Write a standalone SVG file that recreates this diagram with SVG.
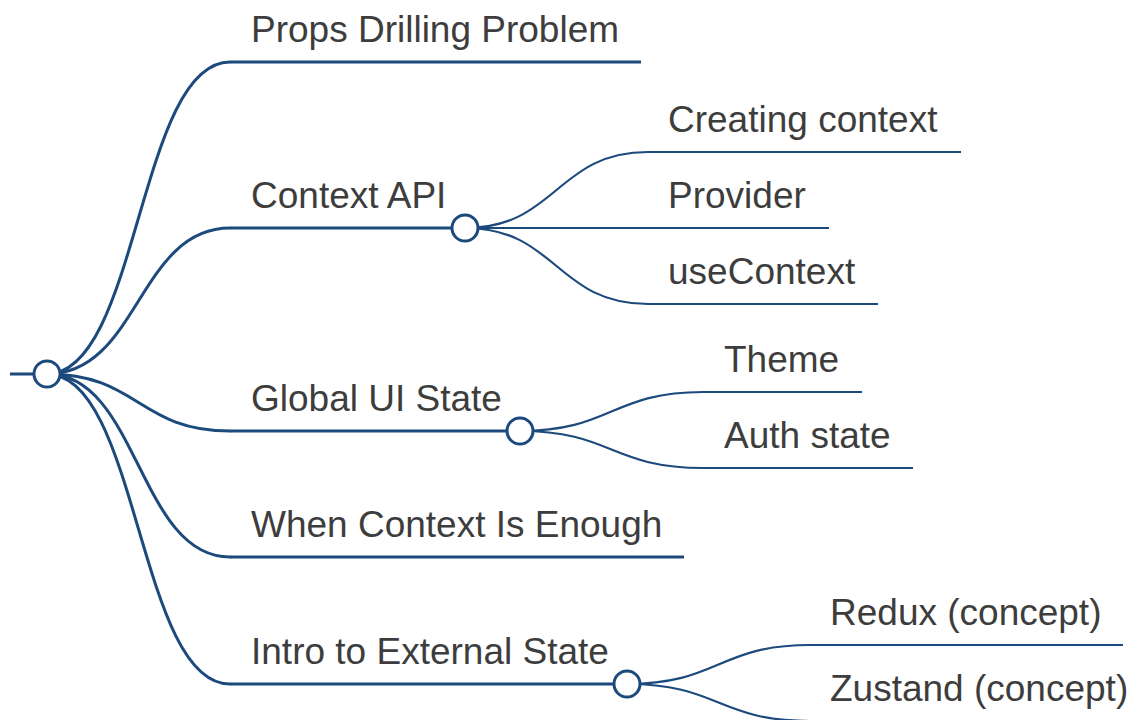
<svg xmlns="http://www.w3.org/2000/svg" width="1139" height="720" viewBox="0 0 1139 720">
  <style>
    .link { fill: none; stroke: #1d4a7d; stroke-linecap: round; }
    .l1 { stroke-width: 3; }
    .l2 { stroke-width: 2.2; }
    .bar { stroke: #1d4a7d; fill: none; }
    .knob { fill: #ffffff; stroke: #1d4a7d; stroke-width: 3; }
    .label { font-family: "Liberation Sans", Arial, sans-serif; font-size: 37px; fill: #3d3d3d; }
  </style>
  <rect width="1139" height="720" fill="#ffffff"/>

  <!-- curved links between parent knobs and child underlines -->
  <g id="connectors">
    <path class="link l1" d="M47 374 C138.5 374 138.5 62 230 62"/>
    <path class="link l1" d="M47 374 C138.5 374 138.5 228 230 228"/>
    <path class="link l1" d="M47 374 C138.5 374 138.5 431 230 431"/>
    <path class="link l1" d="M47 374 C138.5 374 138.5 557 230 557"/>
    <path class="link l1" d="M47 374 C138.5 374 138.5 684 230 684"/>

    <path class="link l2" d="M465 228 C556.5 228 556.5 152 648 152"/>
    <path class="link l2" d="M465 228 C556.5 228 556.5 228 648 228"/>
    <path class="link l2" d="M465 228 C556.5 228 556.5 304 648 304"/>

    <path class="link l2" d="M520 431 C611.5 431 611.5 392 703 392"/>
    <path class="link l2" d="M520 431 C611.5 431 611.5 468 703 468"/>

    <path class="link l2" d="M627 684 C718.5 684 718.5 645 810 645"/>
    <path class="link l2" d="M627 684 C718.5 684 718.5 721 810 721"/>
  </g>

  <!-- root -->
  <g id="root">
    <line class="bar" x1="10" y1="374" x2="47" y2="374" stroke-width="3"/>
    <circle class="knob" cx="47" cy="374" r="13"/>
  </g>

  <g id="props-drilling">
    <line class="bar" x1="230" y1="62" x2="641" y2="62" stroke-width="3"/>
    <text class="label" x="251" y="42">Props Drilling Problem</text>
  </g>

  <g id="context-api">
    <line class="bar" x1="230" y1="228" x2="465" y2="228" stroke-width="3"/>
    <text class="label" x="251" y="208">Context API</text>
    <circle class="knob" cx="465" cy="228" r="13"/>
  </g>

  <g id="creating-context">
    <line class="bar" x1="648" y1="152" x2="961" y2="152" stroke-width="2.2"/>
    <text class="label" x="668" y="132">Creating context</text>
  </g>

  <g id="provider">
    <line class="bar" x1="648" y1="228" x2="829" y2="228" stroke-width="2.2"/>
    <text class="label" x="668" y="208">Provider</text>
  </g>

  <g id="use-context">
    <line class="bar" x1="648" y1="304" x2="878" y2="304" stroke-width="2.2"/>
    <text class="label" x="668" y="284">useContext</text>
  </g>

  <g id="global-ui-state">
    <line class="bar" x1="230" y1="431" x2="520" y2="431" stroke-width="3"/>
    <text class="label" x="251" y="411">Global UI State</text>
    <circle class="knob" cx="520" cy="431" r="13"/>
  </g>

  <g id="theme">
    <line class="bar" x1="703" y1="392" x2="862" y2="392" stroke-width="2.2"/>
    <text class="label" x="724" y="372">Theme</text>
  </g>

  <g id="auth-state">
    <line class="bar" x1="703" y1="468" x2="913" y2="468" stroke-width="2.2"/>
    <text class="label" x="724" y="448">Auth state</text>
  </g>

  <g id="context-enough">
    <line class="bar" x1="230" y1="557" x2="684" y2="557" stroke-width="3"/>
    <text class="label" x="251" y="537">When Context Is Enough</text>
  </g>

  <g id="external-state">
    <line class="bar" x1="230" y1="684" x2="627" y2="684" stroke-width="3"/>
    <text class="label" x="251" y="664">Intro to External State</text>
    <circle class="knob" cx="627" cy="684" r="13"/>
  </g>

  <g id="redux">
    <line class="bar" x1="810" y1="645" x2="1123" y2="645" stroke-width="2.2"/>
    <text class="label" x="830" y="625">Redux (concept)</text>
  </g>

  <g id="zustand">
    <line class="bar" x1="810" y1="721" x2="1150" y2="721" stroke-width="2.2"/>
    <text class="label" x="830" y="701">Zustand (concept)</text>
  </g>
</svg>
